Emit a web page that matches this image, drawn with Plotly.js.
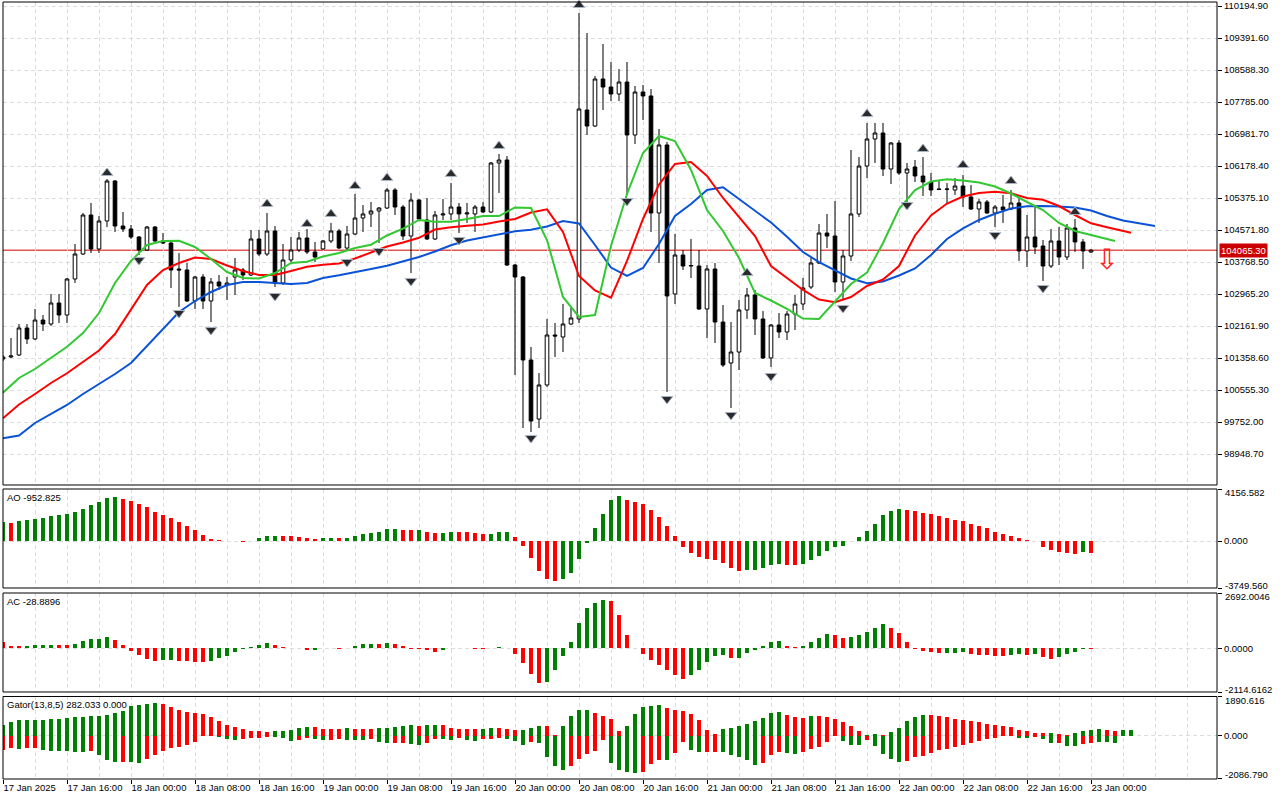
<!DOCTYPE html>
<html>
<head>
<meta charset="utf-8">
<script src="https://cdn.plot.ly/plotly-3.0.1.min.js"></script>
<style>
html,body{margin:0;padding:0;background:#ffffff;}
#chart{width:1280px;height:800px;}
</style>
</head>
<body>
<div id="chart"></div>
<script>
// ---------- time axis ----------
const tickBars = [0,8,16,24,32,40,48,56,64,72,80,88,96,104,112,120,128,136];
const timeLabels = ['17 Jan 2025','17 Jan 16:00','18 Jan 00:00','18 Jan 08:00','18 Jan 16:00','19 Jan 00:00',
  '19 Jan 08:00','19 Jan 16:00','20 Jan 00:00','20 Jan 08:00','20 Jan 16:00','21 Jan 00:00','21 Jan 08:00',
  '21 Jan 16:00','22 Jan 00:00','22 Jan 08:00','22 Jan 16:00','23 Jan 00:00'];

// ---------- price scale ----------
const priceTicks = [98948.70,99752.00,100555.30,101358.60,102161.90,102965.20,103768.50,104571.80,
  105375.10,106178.40,106981.70,107785.00,108588.30,109391.60,110194.90];
const priceRange = [98170.5, 110295.3];

// ---------- candles (H1) ----------
const candleOpen = [101334,101384,101434,102112,101836,102312,102212,102739,102438,103342,
103969,104948,104095,104798,105802,104672,104597,104396,104070,104647,
104296,104245,103593,103568,102790,103392,102790,103267,103191,103392,
103568,103442,104346,103969,104547,103241,103819,104070,104371,104020,
104095,104296,104547,104120,104471,104873,104974,105049,105124,105576,
105149,104421,105325,104823,104346,104948,104974,105149,104974,104974,
105149,105024,106254,106329,103693,103392,101308,99827,100681,101936,
101886,102212,102338,107584,107182,108362,108161,107986,108287,106957,
108036,107936,104999,106706,102965,103944,103668,103668,102589,103593,
102262,101233,101509,102564,102940,102338,101359,102187,102011,102463,
102714,103141,103743,104496,104421,103267,103919,104974,106178,106856,
107007,106103,106756,106003,106153,105927,105777,105601,105601,105576,
105676,105400,105099,105275,104999,105149,105099,105250,104045,104396,
104170,103668,104296,103894,104622,104271,104020];
const candleHigh = [101434,101861,102212,102212,102589,102438,102965,102965,103367,104220,
104999,105250,104923,105852,105827,105024,104697,104421,104672,104672,
104496,104271,103994,103743,103417,103467,103367,103442,103392,103869,
103618,104572,104572,104999,104672,104220,104396,104522,104597,104271,
104321,104748,104597,104672,105476,105199,105275,105149,105626,105626,
105199,105501,105350,105375,105049,105350,105752,105250,105250,105199,
105275,106279,106480,106429,103718,103417,101635,100982,102338,102237,
102714,102614,110019,109517,108438,109241,108789,108613,108789,108187,
108212,108111,107107,106781,104471,104070,104346,104070,103693,103743,
102689,102262,102815,103116,103066,102538,102212,102488,102538,102940,
103367,103869,104722,104974,105300,104070,106580,106404,107258,107258,
107258,106781,106831,106254,106329,106404,106003,105827,105752,105877,
105953,105701,105350,105325,105199,105450,105576,105375,104948,105199,
104321,104597,104647,104722,104848,104346,104095];
const candleLow = [101283,101359,101409,101710,101810,102036,102162,102237,102237,103241,
103944,103994,103994,104647,104522,104522,104346,103944,104045,104271,
104220,103116,102639,102764,102589,102589,102262,103066,102815,102940,
103317,103417,103919,103919,103141,103191,103768,104020,103969,103768,
104070,104245,104095,104070,104446,104522,104647,104245,105099,104948,
104321,103492,104823,104321,104321,104823,104823,104496,104748,104522,
104999,104999,105501,103668,100932,99601,99501,99601,100631,101384,
101509,102187,102237,106957,107157,107584,107810,107810,105450,106731,
107333,104522,103743,100505,102714,103568,103367,102564,101861,101735,
101133,100103,101057,102338,101936,101334,101133,101861,101810,102062,
102564,103091,103718,104120,103015,102815,103794,104898,105877,106254,
105927,105727,105953,105199,105777,105425,105425,105576,105250,105450,
105149,105074,104748,104974,104647,104748,105074,103794,103643,103969,
103292,103618,103693,103819,104020,103593,103994];
const candleClose = [101384,101409,102112,101836,102312,102212,102739,102438,103342,103969,
104948,104095,104798,105802,104672,104597,104396,104070,104647,104296,
104245,103568,103568,102790,103392,102790,103267,103166,103241,103568,
103442,104346,103969,104547,103241,103819,104070,104371,104020,103894,
104296,104547,104120,104471,104873,104974,105049,105124,105576,105149,
104421,105325,104848,104346,104948,104974,105149,104974,104999,105149,
105024,106254,106329,103693,103392,101308,99777,100681,101936,101911,
102212,102363,107609,107182,108362,108161,107986,108287,106957,108036,
107936,104999,106706,102915,103944,103668,103680,102589,103593,102262,
101183,101509,102564,102940,102338,101359,102187,102011,102463,102714,
103116,103743,104496,104421,103267,103919,104974,106178,106856,107007,
106103,106756,106003,106103,105927,105777,105576,105590,105595,105676,
105400,105099,105275,104999,105149,105074,105250,104045,104396,104145,
103668,104296,103894,104622,104271,104045,104065.30];

// ---------- Alligator lines (read every 2 bars; shifted forward 8/5/3 bars) ----------
const jawValues = [99343,99413,99727,99953,100179,100455,100706,100957,101233,101660,
102087,102513,102790,103015,103191,103267,103267,103241,103216,103241,
103367,103435,103505,103593,103676,103794,103894,104032,104188,104308,
104389,104459,104539,104579,104660,104798,104735,104195,103630,103417,
103618,104220,104923,105225,105576,105644,105350,105074,104760,104404,
104020,103768,103555,103354,103234,103279,103430,103605,103944,104346,
104610,104823,104981,105112,105169,105174,105159,105137,105061,104923,
104810,104740,104672];
const teethValues = [99845,100191,100455,100731,100975,101258,101547,101961,102589,103191,
103568,103743,103881,103844,103681,103543,103442,103442,103543,103650,
103701,103731,103856,104007,104158,104258,104376,104584,104640,104677,
104710,104785,104848,105011,105091,104522,103417,103053,102872,103794,
104848,105714,106229,106279,105927,105375,104898,104421,103668,103367,
103066,102827,102757,102890,103166,103329,103668,104434,104936,105237,
105413,105501,105531,105493,105375,105330,105174,104948,104740,104640,
104547,104504];
const lipsValues = [100488,100857,101082,101359,101642,101986,102488,103241,103794,104195,
104296,104303,104145,103844,103517,103367,103354,103492,103743,103776,
103907,103994,104120,104203,104434,104604,104823,104780,104780,104848,
104923,104923,105137,105124,104321,102890,102388,102438,104170,105476,
106505,106932,106806,106078,105074,104547,103869,102990,102802,102589,
102350,102338,102764,103216,103500,104245,105099,105576,105789,105844,
105814,105764,105664,105488,105275,105074,104748,104547,104446,104346,
104296];
const jawShift = 8, teethShift = 5, lipsShift = 3;

// ---------- Bill Williams fractals ----------
const fracUpBars  = [13,33,38,41,44,48,56,62,72,93,108,115,120,126,134];
const fracUpPrice = [106003,105225,104722,104974,105676,105877,105978,106681,110220,103492,107484,106605,106203,105802,105024];
const fracDnBars  = [17,22,26,34,43,47,51,57,66,78,83,91,96,105,113,124,130];
const fracDnPrice = [103819,102488,102062,102915,103768,104045,103292,104321,99350,105300,100330,99928,100907,102614,105199,104446,103116];

// ---------- sell signal ----------
const sellBars = [138];
const sellPrice = [103770];

// ---------- Awesome Oscillator ----------
const aoValues = [1493,1480,1600,1680,1733,1813,1973,2053,2160,2293,
2587,2853,3120,3413,3493,3387,3227,2987,2693,2320,
2053,1813,1493,1173,853,453,160,80,10,-25,
-40,15,240,373,380,370,365,293,213,160,
213,215,210,218,373,560,613,720,933,940,
907,880,890,693,613,620,693,690,685,613,
533,540,693,700,293,-427,-1360,-2427,-3040,-3227,
-3040,-2560,-1440,-133,1013,2133,3253,3573,3253,3093,
2960,2453,1893,1173,373,-507,-960,-1280,-1440,-1520,
-1760,-2187,-2427,-2320,-2310,-2160,-1920,-1840,-1947,-1950,
-1840,-1493,-1227,-773,-507,-400,10,293,800,1333,
2053,2373,2533,2453,2373,2240,2133,1973,1813,1680,
1573,1333,1173,1013,720,533,373,213,53,-27,
-507,-693,-907,-960,-1010,-880,-952.825];
const aoColors = 'GRGGGGGGGG GGGGGRRRRR RRRRRRRRRR RGGGGRRRRR GGRGGGGGGG RRGRRGGRRR RGGGRRRRRR GGGGGGGGRR RRRRRRRRRR RRRGGGGGRR GGGGGGGGGG GGGRRRRRRR RRRRRRRRRR RRRRRGR';
const aoRange = [-3749.560, 4156.582];

// ---------- Accelerator Oscillator ----------
const acValues = [324,130,125,135,178,180,182,175,170,227,
373,470,475,567,421,178,-113,-308,-502,-600,
-551,-545,-600,-605,-648,-652,-632,-454,-356,-194,
-30,81,178,275,178,81,32,8,-97,-81,
5,32,-32,32,130,227,230,225,275,227,
130,-16,-32,-65,-178,-81,32,28,25,-16,
-32,5,81,32,-275,-713,-1264,-1685,-1636,-1053,
-373,292,1231,1944,2187,2333,2284,1604,632,32,
-275,-567,-810,-1053,-1296,-1490,-1296,-1053,-664,-373,
-324,-470,-465,-227,-81,97,292,340,97,49,
97,292,486,680,670,486,535,632,794,972,
1166,972,729,292,-32,-130,-178,-227,-215,-200,
-185,-275,-324,-340,-373,-378,-324,-292,-324,-275,
-421,-518,-437,-275,-178,-16,-28.8896];
const acColors = 'RRRGGGGRRG GGGGRRRRRR GGRRRRGGGG GGGGRRRRRG GGRGGGGRGR RRRRRGGRRR RGGRRRRRGG GGGGGGRRRR RRRRRRGGGG GRGGGGGGRR GGGGRRGGGG GRRRRRRRGG GRRRRRGGRG RRGGGGR';
const acRange = [-2114.6162, 2692.0046];

// ---------- Gator Oscillator ----------
const gatorUp = [505,668,766,770,775,780,815,820,864,913,
920,962,968,1011,1108,1206,1451,1500,1549,1597,
1549,1402,1255,1157,1108,1060,913,717,505,424,
310,245,240,179,228,232,293,375,424,420,
326,322,318,375,326,322,318,375,378,424,
473,522,473,522,525,520,375,326,324,322,
326,375,370,326,277,280,375,473,456,33,
473,962,1255,1260,1108,962,815,228,473,1060,
1402,1451,1500,1353,1255,1206,1060,766,277,82,
326,375,473,571,717,864,1108,1157,1011,913,
864,962,958,913,815,668,473,228,49,82,
49,179,375,717,913,1011,1006,962,913,815,
766,717,668,571,522,473,424,277,228,130,
128,135,82,33,130,228,277,326,277,228,
260,282.033];
const gatorUpColors = 'GGGGGGGGGG GGGGGGGGGG RRRRRRRRRR RRRRGGGGGR RRRGRRRGGG GGRGGRRRRR GGRRRGGGRR GGGGRRRRGG GGGRRRRRRR GGGGGGGGRR RGRRRRRRGG RGGGGGRRRR RRRRRRRRRR RGRRGGGGRR GG';
const gatorDn = [-668,-571,-619,-615,-610,-668,-717,-720,-723,-766,
-770,-717,-913,-1157,-1255,-1250,-1258,-1304,-1108,-913,
-717,-603,-522,-424,-326,-33,-30,-82,-179,-228,
-179,-130,-128,-49,-65,-130,-277,-228,-130,-135,
-228,-225,-179,-185,-228,-230,-179,-326,-375,-370,
-359,-391,-456,-359,-147,-150,-196,-98,-196,-261,
-179,-163,-98,-163,-261,-440,-310,-359,-1043,-1467,
-1663,-1467,-1125,-880,-717,-196,-1337,-1663,-1728,-1809,
-1728,-1369,-1174,-1174,-848,-310,-685,-799,-799,-795,
-803,-929,-1043,-1174,-1418,-1337,-929,-799,-848,-860,
-799,-652,-554,-310,-33,-261,-440,-445,-228,-489,
-880,-1125,-1271,-1222,-1043,-978,-831,-685,-636,-538,
-440,-342,-245,-147,-130,-33,-8,-98,-100,-49,
-147,-359,-355,-489,-495,-391,-342,-293,-298,-342,
-33];
const gatorDnColors = 'RRGRRGGGGG GRGGGRGGRR RRRRRRRGGG RRRRGGGRRG GRRGGGRGGR RGGRRGGRGG RRRGGGRGGG GRRRRRGGGG RRRGRRGGRR GGGGGRRRGG RRRRRGGGRG GGGRRRRRRR RRRRRRRGGR GGRGGRRGGG R';
const gatorRange = [-2086.790, 1890.616];

// ---------- build ----------
const GREEN = '#008000', RED = '#ff0000';
const toColors = s => s.replace(/\s+/g, '').split('').map(c => c === 'G' ? GREEN : RED);
const idx = arr => arr.map((_, i) => i);
const bars = idx(candleClose);
const lastBar = bars.length - 1;
const sampled = (vals, shift) => vals.map((_, k) => Math.min(2 * k, lastBar + shift));
const lastPrice = candleClose[lastBar];

const traces = [
  {type:'candlestick', x:bars, open:candleOpen, high:candleHigh, low:candleLow, close:candleClose,
   xaxis:'x', yaxis:'y', whiskerwidth:0, hoverinfo:'skip',
   increasing:{line:{color:'#000000', width:1}, fillcolor:'#ffffff'},
   decreasing:{line:{color:'#000000', width:1}, fillcolor:'#000000'}},
  {type:'scatter', mode:'lines', x:sampled(jawValues, jawShift), y:jawValues, xaxis:'x', yaxis:'y',
   line:{color:'#0a52d6', width:2}, hoverinfo:'skip'},
  {type:'scatter', mode:'lines', x:sampled(teethValues, teethShift), y:teethValues, xaxis:'x', yaxis:'y',
   line:{color:'#ff0000', width:2}, hoverinfo:'skip'},
  {type:'scatter', mode:'lines', x:sampled(lipsValues, lipsShift), y:lipsValues, xaxis:'x', yaxis:'y',
   line:{color:'#32c832', width:2}, hoverinfo:'skip'},
  {type:'scatter', mode:'markers', x:fracUpBars, y:fracUpPrice, xaxis:'x', yaxis:'y', cliponaxis:false,
   marker:{symbol:'triangle-up', size:10, color:'#2a2a2a', line:{color:'#a8b4c8', width:1}}, hoverinfo:'skip'},
  {type:'scatter', mode:'markers', x:fracDnBars, y:fracDnPrice, xaxis:'x', yaxis:'y', cliponaxis:false,
   marker:{symbol:'triangle-down', size:10, color:'#2a2a2a', line:{color:'#a8b4c8', width:1}}, hoverinfo:'skip'},
  {type:'scatter', mode:'text', x:sellBars, y:sellPrice, text:['⇩'], xaxis:'x', yaxis:'y', cliponaxis:false,
   textfont:{family:'DejaVu Sans', size:28, color:'#ff2020'}, hoverinfo:'skip'},
  {type:'bar', x:idx(aoValues), y:aoValues, xaxis:'x', yaxis:'y2', width:0.55,
   marker:{color:toColors(aoColors), line:{width:0}}, hoverinfo:'skip'},
  {type:'bar', x:idx(acValues), y:acValues, xaxis:'x', yaxis:'y3', width:0.55,
   marker:{color:toColors(acColors), line:{width:0}}, hoverinfo:'skip'},
  {type:'bar', x:idx(gatorUp), y:gatorUp, xaxis:'x', yaxis:'y4', width:0.55,
   marker:{color:toColors(gatorUpColors), line:{width:0}}, hoverinfo:'skip'},
  {type:'bar', x:idx(gatorDn), y:gatorDn, xaxis:'x', yaxis:'y4', width:0.55,
   marker:{color:toColors(gatorDnColors), line:{width:0}}, hoverinfo:'skip'}
];

const GRID = '#dcdcdc', DASH = '4px,3px';
const FONT = {family:'Liberation Sans, Arial, sans-serif', size:9.5, color:'#000000'};

function subAxis(domain, range, zeroText) {
  return {domain:domain, range:range, side:'right', anchor:'x', fixedrange:true,
    tickmode:'array', tickvals:[range[0], 0, range[1]], ticktext:['', zeroText, ''],
    ticks:'outside', ticklen:4, tickcolor:'#000000', tickfont:FONT,
    showgrid:true, gridcolor:GRID, griddash:DASH, gridwidth:1, zeroline:false, showline:false};
}

const layout = {
  width:1280, height:800,
  margin:{l:3, r:63, t:2, b:21},
  paper_bgcolor:'#ffffff', plot_bgcolor:'#ffffff',
  showlegend:false, hovermode:false, dragmode:false,
  boxgap:0.35, barmode:'overlay', bargap:0,
  font:FONT,
  xaxis:{anchor:'y4', domain:[0,1], range:[0,151.75], fixedrange:true,
    tickmode:'array', tickvals:tickBars, ticktext:timeLabels, tickfont:FONT,
    ticks:'outside', ticklen:4, tickcolor:'#000000', ticklabelposition:'outside right',
    showgrid:true, gridcolor:GRID, griddash:DASH, gridwidth:1,
    minor:{tickmode:'linear', tick0:0, dtick:4, showgrid:true, gridcolor:GRID, griddash:DASH, ticks:''},
    zeroline:false, showline:false, rangeslider:{visible:false}},
  yaxis:{domain:[0.37838,1], range:priceRange, side:'right', anchor:'x', fixedrange:true,
    tickmode:'array', tickvals:priceTicks, ticktext:priceTicks.map(v => v.toFixed(2)), tickfont:FONT,
    ticks:'outside', ticklen:4, tickcolor:'#000000',
    showgrid:true, gridcolor:GRID, griddash:DASH, gridwidth:1, zeroline:false, showline:false},
  yaxis2:subAxis([0.24582,0.37323], aoRange, '0.000'),
  yaxis3:subAxis([0.11197,0.23938], acRange, '0.0000'),
  yaxis4:subAxis([0,0.10618], gatorRange, '0.000'),
  shapes:[
    {type:'line', xref:'paper', x0:0, x1:1, yref:'y', y0:lastPrice, y1:lastPrice,
     line:{color:'#d00000', width:1}, layer:'below'},
    {type:'rect', xref:'paper', x0:0, x1:1, yref:'y domain', y0:0, y1:1, line:{color:'#000000', width:1}, layer:'above'},
    {type:'rect', xref:'paper', x0:0, x1:1, yref:'y2 domain', y0:0, y1:1, line:{color:'#000000', width:1}, layer:'above'},
    {type:'rect', xref:'paper', x0:0, x1:1, yref:'y3 domain', y0:0, y1:1, line:{color:'#000000', width:1}, layer:'above'},
    {type:'rect', xref:'paper', x0:0, x1:1, yref:'y4 domain', y0:0, y1:1, line:{color:'#000000', width:1}, layer:'above'}
  ],
  annotations:[
    {xref:'paper', x:1, xanchor:'left', xshift:2, yref:'y', y:lastPrice, yanchor:'middle',
     text:lastPrice.toFixed(2), showarrow:false, bgcolor:'#cc0000', borderpad:1,
     font:{family:FONT.family, size:9.5, color:'#ffffff'}},
    {xref:'paper', x:0, xanchor:'left', xshift:2, yref:'y2 domain', y:1, yanchor:'top', yshift:-1,
     text:'AO ' + aoValues[aoValues.length-1].toFixed(3), showarrow:false, font:FONT},
    {xref:'paper', x:0, xanchor:'left', xshift:2, yref:'y3 domain', y:1, yanchor:'top', yshift:-1,
     text:'AC ' + acValues[acValues.length-1].toFixed(4), showarrow:false, font:FONT},
    {xref:'paper', x:0, xanchor:'left', xshift:2, yref:'y4 domain', y:1, yanchor:'top', yshift:-1,
     text:'Gator(13,8,5) ' + gatorUp[gatorUp.length-1].toFixed(3) + ' 0.000', showarrow:false, font:FONT},
    {xref:'paper', x:1, xanchor:'left', xshift:6, yref:'y2', y:aoRange[1], yanchor:'middle', yshift:-3,
     text:aoRange[1].toFixed(3), showarrow:false, font:FONT},
    {xref:'paper', x:1, xanchor:'left', xshift:6, yref:'y2', y:aoRange[0], yanchor:'middle', yshift:3,
     text:aoRange[0].toFixed(3), showarrow:false, font:FONT},
    {xref:'paper', x:1, xanchor:'left', xshift:6, yref:'y3', y:acRange[1], yanchor:'middle', yshift:-3,
     text:acRange[1].toFixed(4), showarrow:false, font:FONT},
    {xref:'paper', x:1, xanchor:'left', xshift:6, yref:'y3', y:acRange[0], yanchor:'middle', yshift:3,
     text:acRange[0].toFixed(4), showarrow:false, font:FONT},
    {xref:'paper', x:1, xanchor:'left', xshift:6, yref:'y4', y:gatorRange[1], yanchor:'middle', yshift:-4,
     text:gatorRange[1].toFixed(3), showarrow:false, font:FONT},
    {xref:'paper', x:1, xanchor:'left', xshift:6, yref:'y4', y:gatorRange[0], yanchor:'middle', yshift:4,
     text:gatorRange[0].toFixed(3), showarrow:false, font:FONT}
  ]
};

Plotly.newPlot('chart', traces, layout, {staticPlot:true, displayModeBar:false});
</script>
</body>
</html>
